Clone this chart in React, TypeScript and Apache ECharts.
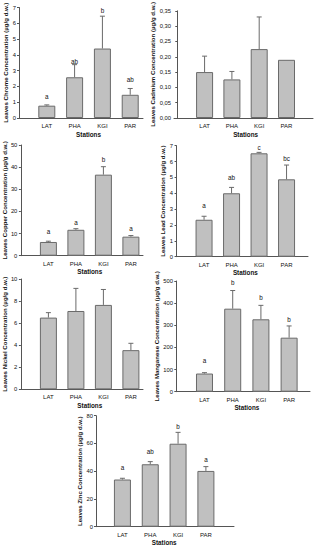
import React, { useEffect, useRef } from "react";
import * as echarts from "echarts";

const stations = ["LAT", "PHA", "KGI", "PAR"];

const chromeMean = [0.78, 2.58, 4.4, 1.47];
const chromeErr = [0.05, 0.8, 2.05, 0.4];
const chromeLetters = ["a", "ab", "b", "ab"];
const chromeLetterY = [1.35, 3.6, 6.84, 2.47];

const cadmiumMean = [0.15, 0.126, 0.225, 0.19];
const cadmiumErr = [0.052, 0.026, 0.105, 0];
const cadmiumLetters: string[] = [];
const cadmiumLetterY: number[] = [];

const copperMean = [6.2, 11.7, 36.6, 8.6];
const copperErr = [0.35, 0.5, 3.6, 0.5];
const copperLetters = ["a", "a", "b", "a"];
const copperLetterY = [10.8, 15.1, 43.6, 12.4];

const leadMean = [2.33, 4.0, 6.52, 4.88];
const leadErr = [0.22, 0.37, 0.06, 0.9];
const leadLetters = ["a", "ab", "c", "bc"];
const leadLetterY = [3.2, 4.98, 6.87, 6.2];

const nickelMean = [6.5, 7.1, 7.65, 3.55];
const nickelErr = [0.45, 2.05, 1.4, 0.62];
const nickelLetters: string[] = [];
const nickelLetterY: number[] = [];

const manganeseMean = [82, 375, 327, 244];
const manganeseErr = [4, 82, 63, 53];
const manganeseLetters = ["a", "b", "b", "b"];
const manganeseLetterY = [143, 494, 426, 324];

const zincMean = [34, 45, 59.8, 40.2];
const zincErr = [0.9, 1.9, 8.2, 3.1];
const zincLetters = ["a", "ab", "b", "a"];
const zincLetterY = [43, 54.5, 72, 48.5];

const yTitles = [
  "Leaves Chrome Concentration (µg/g d.w.)",
  "Leaves Cadmium Concentration (µg/g d.w.)",
  "Leaves Copper Concentration (µg/g d.w.)",
  "Leaves Lead Concentration (µg/g d.w.)",
  "Leaves Nickel Concentration (µg/g d.w.)",
  "Leaves Manganese Concentration (µg/g d.w.)",
  "Leaves Zinc Concentration (µg/g d.w.)",
];
const xTitle = "Stations";

const yMax = [7, 0.35, 50, 7, 10, 500, 80];
const yStep = [1, 0.05, 10, 1, 2, 100, 20];

const means = [chromeMean, cadmiumMean, copperMean, leadMean, nickelMean, manganeseMean, zincMean];
const errs = [chromeErr, cadmiumErr, copperErr, leadErr, nickelErr, manganeseErr, zincErr];
const letters = [chromeLetters, cadmiumLetters, copperLetters, leadLetters, nickelLetters, manganeseLetters, zincLetters];
const letterYs = [chromeLetterY, cadmiumLetterY, copperLetterY, leadLetterY, nickelLetterY, manganeseLetterY, zincLetterY];

// layout: left, top, width, height, xMin, xMax, yNameGap
const layout = [
  { left: 19, top: 7.5, width: 124, height: 110.5, xMin: 0, xMax: 4.46, gap: 11 },
  { left: 174, top: 10, width: 139, height: 108, xMin: -0.12, xMax: 4.97, gap: 16 },
  { left: 19, top: 145, width: 124, height: 110.7, xMin: -0.02, xMax: 4.44, gap: 11 },
  { left: 176, top: 145.7, width: 132, height: 111, xMin: -0.02, xMax: 4.78, gap: 8.5 },
  { left: 19, top: 279, width: 124, height: 110.3, xMin: -0.02, xMax: 4.44, gap: 11 },
  { left: 176, top: 281, width: 134, height: 110.7, xMin: -0.01, xMax: 4.74, gap: 8.5 },
  { left: 96, top: 415.7, width: 138, height: 111, xMin: 0.05, xMax: 5.01, gap: 9 },
];

const FONT = "Liberation Sans";
const BAR_FILL = "#c0c0c0";
const BAR_BORDER = "#6a6a6a";
const AXIS = "#555";
const TEXT = "#111";

export default function App() {
  const ref = useRef<HTMLDivElement>(null);
  useEffect(() => {
    if (!ref.current) return;
    const chart = echarts.init(ref.current, undefined, { renderer: "svg" });
    const grid: any[] = [];
    const xAxis: any[] = [];
    const yAxis: any[] = [];
    const series: any[] = [];
    layout.forEach((g, i) => {
      grid.push({ left: g.left, top: g.top, width: g.width, height: g.height });
      const spacing = g.width / (g.xMax - g.xMin);
      const shift = (2.5 - (g.xMin + g.xMax) / 2) * spacing;
      xAxis.push({
        type: "value",
        gridIndex: i,
        min: g.xMin,
        max: g.xMax,
        splitLine: { show: false },
        axisTick: { show: false },
        axisLine: { show: true, lineStyle: { color: AXIS, width: 1 } },
        axisLabel: {
          customValues: [1, 2, 3, 4],
          formatter: (v: number) => stations[Math.round(v) - 1] || "",
          fontSize: 6,
          fontFamily: FONT,
          color: TEXT,
          margin: 5,
        },
        name: xTitle,
        nameLocation: "middle",
        nameGap: 13,
        nameTextStyle: {
          fontSize: 6.3,
          fontWeight: "bold",
          fontFamily: FONT,
          color: TEXT,
          padding: shift > 0 ? [0, 0, 0, 2 * shift] : [0, -2 * shift, 0, 0],
        },
      });
      yAxis.push({
        type: "value",
        gridIndex: i,
        min: 0,
        max: yMax[i],
        interval: yStep[i],
        splitLine: { show: false },
        axisLine: { show: true, lineStyle: { color: AXIS, width: 1 } },
        axisTick: { show: true, length: 2, lineStyle: { color: AXIS } },
        axisLabel: {
          fontSize: 5.8,
          fontFamily: FONT,
          color: TEXT,
          margin: 3,
          formatter: (v: number) =>
            i === 1 ? v.toFixed(2).replace(".", ",") : String(Math.round(v)),
        },
        name: yTitles[i],
        nameLocation: "middle",
        nameGap: g.gap,
        nameTextStyle: { fontSize: 6.1, fontWeight: "bold", fontFamily: FONT, color: TEXT },
      });
      series.push({
        type: "bar",
        xAxisIndex: i,
        yAxisIndex: i,
        barWidth: 17,
        data: means[i].map((v, k) => [k + 1, v]),
        itemStyle: { color: BAR_FILL, borderColor: BAR_BORDER, borderWidth: 1 },
        silent: true,
        z: 2,
      });
      const lets = letters[i];
      const lys = letterYs[i];
      series.push({
        type: "custom",
        xAxisIndex: i,
        yAxisIndex: i,
        z: 3,
        silent: true,
        itemStyle: { color: TEXT },
        encode: { x: 0, y: 1 },
        data: means[i].map((v, k) => [k + 1, v, errs[i][k], lys[k] !== undefined ? lys[k] : 0]),
        renderItem: (params: any, api: any) => {
          const x = api.value(0);
          const m = api.value(1);
          const e = api.value(2);
          const children: any[] = [];
          const p0 = api.coord([x, m]);
          const p1 = api.coord([x, m + e]);
          if (e > 0) {
            children.push({
              type: "line",
              shape: { x1: p0[0], y1: p0[1], x2: p1[0], y2: p1[1] },
              style: { stroke: BAR_BORDER, lineWidth: 1 },
            });
            children.push({
              type: "line",
              shape: { x1: p1[0] - 2.5, y1: p1[1], x2: p1[0] + 2.5, y2: p1[1] },
              style: { stroke: BAR_BORDER, lineWidth: 1 },
            });
          }
          const lt = lets[params.dataIndex];
          if (lt) {
            const pl = api.coord([x, api.value(3)]);
            children.push({
              type: "text",
              x: pl[0],
              y: pl[1],
              style: {
                text: lt,
                fontSize: 6.3,
                fontFamily: FONT,
                fill: TEXT,
                align: "center",
                verticalAlign: "middle",
              },
            });
          }
          return { type: "group", children };
        },
      });
    });
    chart.setOption({
      animation: false,
      backgroundColor: "#fff",
      grid,
      xAxis,
      yAxis,
      series,
    });
    return () => chart.dispose();
  }, []);
  return (
    <div
      ref={ref}
      style={{ position: "absolute", left: 0, top: 0, width: 322, height: 550 }}
    />
  );
}
